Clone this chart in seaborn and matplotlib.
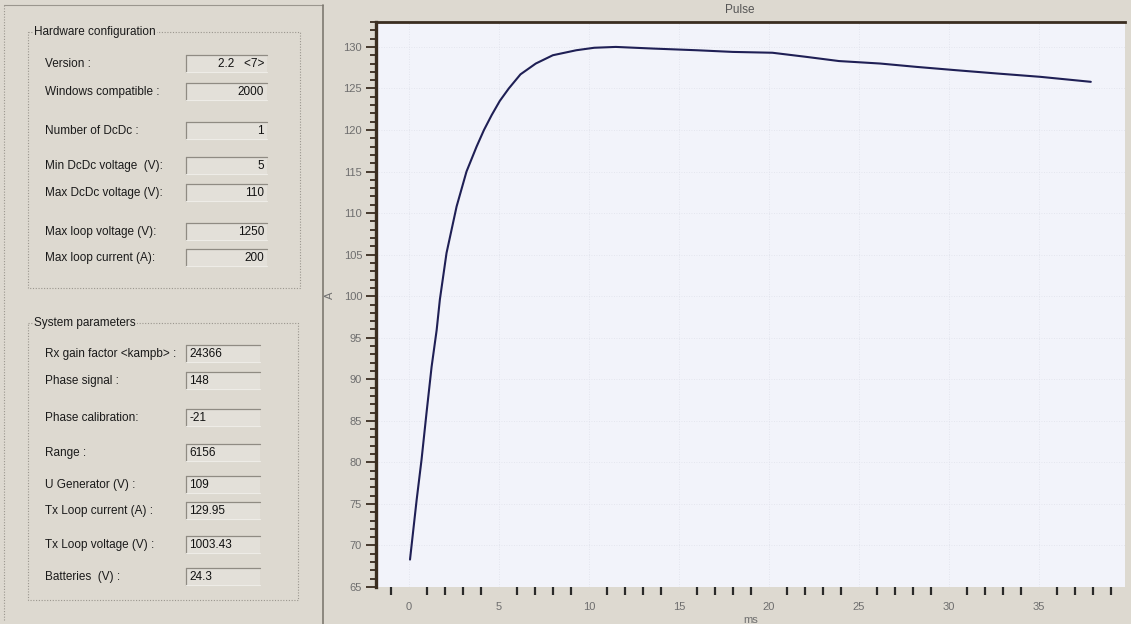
import matplotlib
matplotlib.use("Agg")
import matplotlib.pyplot as plt
import seaborn as sns
from matplotlib.patches import Rectangle
from matplotlib.ticker import MultipleLocator, FixedLocator

# pulse curve (ms, A)
time_ms = [0.06, 0.43, 0.7, 0.98, 1.26, 1.54, 1.72, 2.09, 2.65, 3.2, 3.76, 4.17,
           4.6, 5.05, 5.55, 6.2, 7.05, 8.0, 9.3, 10.3, 11.5, 13.6, 16.0, 18.0,
           20.2, 22.1, 23.9, 26.2, 28.2, 30.4, 32.7, 35.1, 37.9]
current_a = [68.3, 75.5, 80.3, 86.0, 91.5, 95.9, 99.6, 105.2, 110.8, 115.0, 118.0, 120.0,
             121.8, 123.5, 125.0, 126.7, 128.0, 129.0, 129.6, 129.9, 130.0, 129.8, 129.6, 129.4,
             129.3, 128.8, 128.3, 128.0, 127.6, 127.2, 126.8, 126.4, 125.8]

hw_labels = ["Version :", "Windows compatible :", "Number of DcDc :", "Min DcDc voltage  (V):",
             "Max DcDc voltage (V):", "Max loop voltage (V):", "Max loop current (A):"]
hw_values = ["2.2   <7>", "2000", "1", "5", "110", "1250", "200"]

sys_labels = ["Rx gain factor <kampb> :", "Phase signal :", "Phase calibration:", "Range :",
              "U Generator (V) :", "Tx Loop current (A) :", "Tx Loop voltage (V) :", "Batteries  (V) :"]
sys_values = ["24366", "148", "-21", "6156", "109", "129.95", "1003.43", "24.3"]

BG = "#DDD9D0"
PLOT_BG = "#F2F3FA"
DARK = "#3a2d20"
GRAY_TXT = "#6e6e6e"

sns.set_style("white")
plt.rcParams['font.family'] = ['Liberation Sans', 'DejaVu Sans']

W, H = 1131, 624
fig = plt.figure(figsize=(W / 100, H / 100), dpi=100, facecolor=BG)

# pixel-space canvas for the dialog decorations
bg = fig.add_axes([0, 0, 1, 1], zorder=0)
bg.set_xlim(0, W)
bg.set_ylim(H, 0)
bg.axis("off")

# outer frame of the left panel + separator
bg.plot([4, 323], [5, 5], color="#9a968e", lw=0.8)
bg.plot([4, 4], [5, 620], color="#9a968e", lw=0.8, ls=(0, (1, 1.5)))
bg.plot([323, 323], [5, 624], color="#7d7970", lw=1.2)


def group_box(x0, y0, x1, y1, title):
    bg.add_patch(Rectangle((x0, y0), x1 - x0, y1 - y0, fill=False,
                           ec="#9a968e", lw=0.8, ls=(0, (1, 1.5))))
    bg.text(x0 + 6, y0, title, fontsize=8.5, color="#1a1a1a", va="center", ha="left",
            bbox=dict(fc=BG, ec="none", pad=1))


def field(x0, y0, x1, y1):
    bg.add_patch(Rectangle((x0, y0), x1 - x0, y1 - y0, fc="#E3E0D9", ec="none"))
    bg.plot([x0, x1], [y0, y0], color="#8f8b83", lw=0.9)
    bg.plot([x0, x0], [y0, y1], color="#8f8b83", lw=0.9)
    bg.plot([x0, x1], [y1, y1], color="#EEECE7", lw=0.8)


group_box(28, 32, 300, 288, "Hardware configuration")
hw_rows = [64, 92, 131, 166, 193, 232, 258]
for lab, val, y in zip(hw_labels, hw_values, hw_rows):
    bg.text(45, y, lab, fontsize=8.5, color="#1a1a1a", va="center")
    field(186, y - 9, 267, y + 8)
    bg.text(264, y, val, fontsize=8.5, color="#111111", va="center", ha="right")

group_box(28, 323, 298, 600, "System parameters")
sys_rows = [354, 381, 418, 453, 485, 511, 545, 577]
for lab, val, y in zip(sys_labels, sys_values, sys_rows):
    bg.text(45, y, lab, fontsize=8.5, color="#1a1a1a", va="center")
    field(186, y - 9, 260, y + 8)
    bg.text(189, y, val, fontsize=8.5, color="#111111", va="center", ha="left")

bg.text(740, 10, "Pulse", fontsize=8.5, color="#555555", ha="center", va="center")

# chart
x0, y0, x1, y1 = 376, 22, 1125, 587
ax = fig.add_axes([x0 / W, 1 - y1 / H, (x1 - x0) / W, (y1 - y0) / H], zorder=1)
ax.set_facecolor(PLOT_BG)

sns.lineplot(x=time_ms, y=current_a, ax=ax, color="#1f1f55", lw=1.5)

ax.set_xlim(-1.83, 39.8)
ax.set_ylim(65, 133)

ax.tick_params(which="both", left=True, bottom=True)

ax.yaxis.set_major_locator(MultipleLocator(5))
ax.yaxis.set_minor_locator(MultipleLocator(1))
ax.tick_params(axis="y", which="major", direction="out", length=7, width=1.3,
               color=DARK, labelsize=8, labelcolor=GRAY_TXT, pad=3)
ax.tick_params(axis="y", which="minor", direction="out", length=4, width=1.3, color=DARK)

ax.xaxis.set_major_locator(MultipleLocator(5))
ax.xaxis.set_minor_locator(FixedLocator([v for v in range(-1, 40) if v % 5 != 0]))
ax.tick_params(axis="x", which="major", length=0, labelsize=8, labelcolor=GRAY_TXT, pad=11)
ax.tick_params(axis="x", which="minor", direction="out", length=6, width=1.6, color="#2a2a2a")

ax.grid(True, which="major", color="#DFE1EA", lw=0.6, ls=(0, (1, 2)))

for side in ["right", "bottom"]:
    ax.spines[side].set_visible(False)
ax.spines["left"].set_color(DARK)
ax.spines["left"].set_linewidth(2.4)
ax.spines["top"].set_color(DARK)
ax.spines["top"].set_linewidth(2.0)

ax.set_xlabel("ms", fontsize=8, color=GRAY_TXT)
ax.xaxis.set_label_coords(0.5, -0.05)
ax.set_ylabel("A", fontsize=8, color=GRAY_TXT)
ax.yaxis.set_label_coords(-0.055, 0.517)

fig.savefig("out.png", dpi=100, facecolor=BG)
